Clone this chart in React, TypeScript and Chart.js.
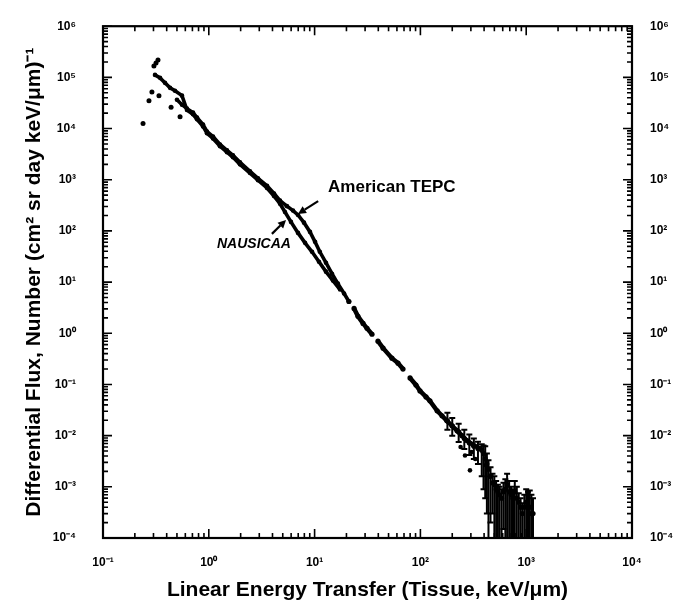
import React, { useEffect, useRef } from 'react';
import { Chart, registerables } from 'chart.js';

Chart.register(...registerables);

// ---------- axis ticks ----------
const X_TICKS = [0.1, 1, 10, 100, 1000, 10000];
const X_TICK_LABELS = ['10⁻¹', '10⁰', '10¹', '10²', '10³', '10⁴'];
const Y_TICKS = [1e-4, 1e-3, 1e-2, 1e-1, 1, 10, 100, 1e3, 1e4, 1e5, 1e6];
const Y_TICK_LABELS = ['10⁻⁴', '10⁻³', '10⁻²', '10⁻¹', '10⁰', '10¹', '10²', '10³', '10⁴', '10⁵', '10⁶'];
const MINOR_MULTIPLIERS = [2, 3, 4, 5, 6, 7, 8, 9];

// ---------- data (LET keV/um, differential flux) ----------
// NAUSICAA
const NAUSICAA_X = [0.310, 0.346, 0.385, 0.430, 0.479, 0.558, 0.622, 0.709, 0.774, 0.882, 0.962, 1.096, 1.276, 1.486, 1.693, 1.972, 2.452, 2.917, 3.549, 4.133, 4.71, 5.25, 5.98, 6.97, 8.12, 9.45, 11.0, 12.8, 14.9, 17.4];
const NAUSICAA_Y = [1.118e5, 9.78e4, 7.82e4, 6.25e4, 5.47e4, 4.4e4, 2.3e4, 1.9e4, 1.52e4, 1.1e4, 8.1e3, 6.4e3, 4.5e3, 3.45e3, 2.75e3, 2.0e3, 1.35e3, 980, 690, 480, 340, 234, 150, 91.5, 58.5, 39.1, 25.0, 16.0, 10.7, 7.15];
// NAUSICAA low-LET scattered points
const NAUSICAA_LOW_X = [0.331, 0.317, 0.303, 0.290, 0.272, 0.338, 0.44, 0.535, 0.239];
const NAUSICAA_LOW_Y = [2.19e5, 1.9e5, 1.66e5, 5.2e4, 3.5e4, 4.4e4, 2.6e4, 1.7e4, 1.26e4];

// American TEPC
const TEPC_X = [0.500, 0.558, 0.622, 0.709, 0.774, 0.882, 0.962, 1.096, 1.276, 1.486, 1.693, 1.972, 2.452, 2.917, 3.549, 4.133, 4.71, 5.48, 6.25, 6.97, 7.94, 9.05, 10.1, 11.2, 12.8, 14.6, 16.6, 19.0, 21.1];
const TEPC_Y = [3.66e4, 2.92e4, 2.45e4, 2.05e4, 1.64e4, 1.20e4, 8.74e3, 7.0e3, 4.89e3, 3.74e3, 2.99e3, 2.19e3, 1.46e3, 1.07e3, 760, 540, 390, 305, 250, 205, 145, 95.7, 61.1, 39.1, 23.9, 14.6, 9.35, 5.98, 4.18];
// American TEPC high-LET tail (null = gap in the trace)
const TEPC_TAIL_X = [21.1, 22.3, 23.6, 25.7, 28.7, 31.3, 34.9, 37.0, 39.7, 44.4, 53.8, 61.4, 68.5, 74.0, 79.8, 90.8, 99.1, 113, 123, 144, 160, 178, 199, 222, 247, 275, 314, 366];
const TEPC_TAIL_Y = [4.18, null, 3.06, 2.14, 1.56, 1.25, 0.957, null, 0.70, 0.512, 0.327, 0.261, 0.200, null, 0.134, 0.0977, 0.0748, 0.0572, 0.0478, 0.0306, 0.0244, 0.0195, 0.0156, 0.0125, 0.0100, 0.0080, 0.00668, 0.0056];
const TEPC_SCATTER_X = [294, 264, 417, 240, 330, 305, 450];
const TEPC_SCATTER_Y = [0.0021, 0.0041, 0.00263, 0.006, 0.0035, 0.0048, 0.0016];
// American TEPC high-LET points with error bars
const EB_X = [180, 200, 230, 260, 290, 320, 350, 380, 395, 410, 425, 440, 460, 480, 500, 520, 540, 560, 585, 610, 635, 660, 690, 720, 750, 780, 815, 850, 885, 920, 960, 1000, 1040, 1080, 1120, 1160];
const EB_Y = [0.0195, 0.0156, 0.0118, 0.0088, 0.0072, 0.0062, 0.0056, 0.0052, 0.0045, 0.0035, 0.0028, 0.0022, 0.0016, 0.0012, 0.0011, 0.0009, 0.0008, 0.0007, 0.0006, 0.0008, 0.0009, 0.0011, 0.0008, 0.0007, 0.0006, 0.0008, 0.0006, 0.0005, 0.0004, 0.0003, 0.0004, 0.0005, 0.0004, 0.0004, 0.0003, 0.0003];
const EB_HIGH = [0.028, 0.022, 0.017, 0.013, 0.0105, 0.0088, 0.0076, 0.0068, 0.0064, 0.0062, 0.0045, 0.0033, 0.0024, 0.0018, 0.0016, 0.0013, 0.0011, 0.001, 0.0009, 0.0012, 0.0014, 0.0018, 0.0013, 0.001, 0.0009, 0.0013, 0.001, 0.00075, 0.0006, 0.00048, 0.0007, 0.0009, 0.0008, 0.00085, 0.0007, 0.0006];
const EB_LOW = [0.013, 0.010, 0.0075, 0.0055, 0.0042, 0.0035, 0.0028, 0.0016, 0.0009, 0.0006, 0.0003, 0.00008, 0.0002, 0.0003, 0.0001, 0.00005, 0.00006, 0.00005, 0.00005, 0.00015, 0.00005, 0.00005, 0.00006, 0.00007, 0.00005, 0.00005, 0.00005, 0.00005, 0.00005, 0.00005, 0.00005, 0.00005, 0.00005, 0.00005, 0.00005, 0.00005];

const FONT = "Arial, 'Liberation Sans', Helvetica, sans-serif";

const zip = (xs: number[], ys: (number | null)[]) => xs.map((x, i) => ({ x, y: ys[i] }));

const ANNOTATIONS = [
  { text: 'American TEPC', font: `bold 17px ${FONT}`, textX: 13.4, textY: 714, tailX: 10.8, tailY: 383, tipX: 6.97, tipY: 214 },
  { text: 'NAUSICAA', font: `italic bold 14px ${FONT}`, textX: 1.195, textY: 56, tailX: 3.95, tailY: 87.5, tipX: 5.37, tipY: 164 },
];

const framePlugin = {
  id: 'frameTicks',
  afterDraw(chart: any) {
    const { ctx, chartArea } = chart;
    const { left, right, top, bottom } = chartArea;
    const xs = chart.scales.x;
    const ys = chart.scales.y;
    const MAJOR = 9;
    const MINOR = 5;
    ctx.save();
    ctx.strokeStyle = '#000';
    ctx.lineWidth = 1.6;
    const drawX = (v: number, len: number) => {
      const px = xs.getPixelForValue(v);
      ctx.beginPath();
      ctx.moveTo(px, bottom);
      ctx.lineTo(px, bottom - len);
      ctx.moveTo(px, top);
      ctx.lineTo(px, top + len);
      ctx.stroke();
    };
    const drawY = (v: number, len: number) => {
      const py = ys.getPixelForValue(v);
      ctx.beginPath();
      ctx.moveTo(left, py);
      ctx.lineTo(left + len, py);
      ctx.moveTo(right, py);
      ctx.lineTo(right - len, py);
      ctx.stroke();
    };
    X_TICKS.forEach((t, i) => {
      drawX(t, MAJOR);
      if (i < X_TICKS.length - 1) MINOR_MULTIPLIERS.forEach((m) => drawX(t * m, MINOR));
    });
    Y_TICKS.forEach((t, i) => {
      drawY(t, MAJOR);
      if (i < Y_TICKS.length - 1) MINOR_MULTIPLIERS.forEach((m) => drawY(t * m, MINOR));
    });
    ctx.lineWidth = 2.2;
    ctx.strokeRect(left, top, right - left, bottom - top);

    // annotations
    ctx.fillStyle = '#000';
    ctx.lineWidth = 2.2;
    ANNOTATIONS.forEach((a) => {
      ctx.font = a.font;
      ctx.textAlign = 'left';
      ctx.textBaseline = 'middle';
      ctx.fillText(a.text, xs.getPixelForValue(a.textX), ys.getPixelForValue(a.textY));
      const x1 = xs.getPixelForValue(a.tailX);
      const y1 = ys.getPixelForValue(a.tailY);
      const x2 = xs.getPixelForValue(a.tipX);
      const y2 = ys.getPixelForValue(a.tipY);
      const ang = Math.atan2(y2 - y1, x2 - x1);
      const hl = 8;
      const hw = 4;
      const bx = x2 - hl * Math.cos(ang);
      const by = y2 - hl * Math.sin(ang);
      ctx.beginPath();
      ctx.moveTo(x1, y1);
      ctx.lineTo(bx, by);
      ctx.stroke();
      ctx.beginPath();
      ctx.moveTo(x2, y2);
      ctx.lineTo(bx + hw * Math.sin(ang), by - hw * Math.cos(ang));
      ctx.lineTo(bx - hw * Math.sin(ang), by + hw * Math.cos(ang));
      ctx.closePath();
      ctx.fill();
    });
    ctx.restore();
  },
};

const errorBarPlugin = {
  id: 'errorBars',
  afterDatasetsDraw(chart: any) {
    const { ctx, chartArea } = chart;
    const xs = chart.scales.x;
    const ys = chart.scales.y;
    ctx.save();
    ctx.beginPath();
    ctx.rect(chartArea.left, chartArea.top, chartArea.right - chartArea.left, chartArea.bottom - chartArea.top);
    ctx.clip();
    ctx.strokeStyle = '#000';
    ctx.lineWidth = 2;
    EB_X.forEach((v, i) => {
      const px = xs.getPixelForValue(v);
      const ph = ys.getPixelForValue(EB_HIGH[i]);
      const pl = ys.getPixelForValue(EB_LOW[i]);
      ctx.beginPath();
      ctx.moveTo(px, pl);
      ctx.lineTo(px, ph);
      ctx.moveTo(px - 3, ph);
      ctx.lineTo(px + 3, ph);
      ctx.moveTo(px - 3, pl);
      ctx.lineTo(px + 3, pl);
      ctx.stroke();
    });
    ctx.restore();
  },
};

export default function App() {
  const ref = useRef<HTMLCanvasElement>(null);
  useEffect(() => {
    document.body.style.margin = '0';
    const tickFont = { family: FONT, size: 12, weight: 'bold' as const };
    const pointStyle = { pointRadius: 2.3, pointBorderWidth: 0, pointBackgroundColor: '#000', borderColor: '#000' };
    const chart = new Chart(ref.current as HTMLCanvasElement, {
      type: 'scatter',
      data: {
        datasets: [
          { label: 'NAUSICAA', data: zip(NAUSICAA_X, NAUSICAA_Y), showLine: true, borderWidth: 3.6, ...pointStyle },
          { label: 'NAUSICAA low LET', data: zip(NAUSICAA_LOW_X, NAUSICAA_LOW_Y), showLine: false, ...pointStyle, pointRadius: 2.5 },
          { label: 'American TEPC', data: zip(TEPC_X, TEPC_Y), showLine: true, borderWidth: 3.6, ...pointStyle },
          { label: 'American TEPC tail', data: zip(TEPC_TAIL_X, TEPC_TAIL_Y), showLine: true, spanGaps: false, borderWidth: 4.5, ...pointStyle, pointRadius: 2.6 },
          { label: 'American TEPC scatter', data: zip(TEPC_SCATTER_X, TEPC_SCATTER_Y), showLine: false, ...pointStyle },
          { label: 'American TEPC high LET', data: zip(EB_X, EB_Y), showLine: false, ...pointStyle, pointRadius: 2.6 },
        ],
      },
      options: {
        animation: false,
        responsive: true,
        maintainAspectRatio: false,
        layout: { padding: { top: 23, left: 0, right: 0, bottom: 0 } },
        plugins: { legend: { display: false }, tooltip: { enabled: false } },
        scales: {
          x: {
            type: 'logarithmic',
            position: 'bottom',
            min: 0.1,
            max: 10000,
            grid: { display: false },
            border: { display: false },
            afterBuildTicks: (s: any) => { s.ticks = X_TICKS.map((v) => ({ value: v })); },
            afterFit: (s: any) => { s.height = 67; },
            ticks: { autoSkip: false, maxRotation: 0, padding: 9, color: '#000', font: tickFont, callback: (_v: any, i: number) => X_TICK_LABELS[i] },
            title: { display: true, text: 'Linear Energy Transfer (Tissue, keV/μm)', color: '#000', font: { family: FONT, size: 21, weight: 'bold' }, padding: { top: 0, bottom: 2 } },
          },
          y: {
            type: 'logarithmic',
            position: 'left',
            min: 1e-4,
            max: 1e6,
            grid: { display: false },
            border: { display: false },
            afterBuildTicks: (s: any) => { s.ticks = Y_TICKS.map((v) => ({ value: v })); },
            afterFit: (s: any) => { s.width = 103; },
            ticks: { autoSkip: false, padding: 19, color: '#000', font: tickFont, callback: (_v: any, i: number) => Y_TICK_LABELS[i] },
            title: { display: true, text: 'Differential Flux, Number (cm² sr day keV/μm)⁻¹', color: '#000', font: { family: FONT, size: 21, weight: 'bold' }, padding: { top: 22, bottom: 0 } },
          },
          y2: {
            type: 'logarithmic',
            position: 'right',
            min: 1e-4,
            max: 1e6,
            grid: { display: false },
            border: { display: false },
            afterBuildTicks: (s: any) => { s.ticks = Y_TICKS.map((v) => ({ value: v })); },
            afterFit: (s: any) => { s.width = 41; },
            ticks: { autoSkip: false, padding: 10, color: '#000', font: tickFont, callback: (_v: any, i: number) => Y_TICK_LABELS[i] },
          },
        },
      } as any,
      plugins: [errorBarPlugin, framePlugin],
    });
    return () => chart.destroy();
  }, []);
  return (
    <div style={{ position: 'absolute', left: 0, top: 0, width: 673, height: 605 }}>
      <canvas ref={ref} />
    </div>
  );
}
